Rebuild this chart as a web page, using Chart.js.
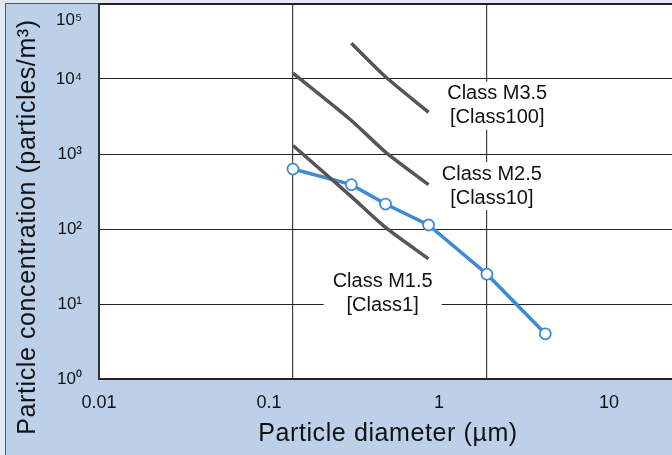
<!DOCTYPE html>
<html lang="en">
<head>
  <meta charset="UTF-8">
  <title>Particle concentration vs diameter</title>
  <script src="https://cdn.jsdelivr.net/npm/chart.js"></script>
  <style>
    html, body {
      margin: 0;
      width: 672px;
      height: 455px;
      overflow: hidden;
      background: #e2e9f5;
      font-family: "Liberation Sans", Arial, sans-serif;
      color: #111;
    }

    #panel {
      position: absolute;
      left: 5px;
      top: 3px;
      right: 0;
      bottom: 0;
      background: #bdd0ea;
      border-left: 1px solid #555;
      border-top: 1px solid #555;
    }

    #chart {
      position: absolute;
      left: 0;
      top: 0;
    }

    .axis-title {
      position: absolute;
      font-size: 25px;
      line-height: 30px;
      height: 30px;
      letter-spacing: 0.6px;
      text-align: center;
      white-space: nowrap;
    }

    #xTitle {
      left: 88px;
      top: 417px;
      width: 600px;
    }

    #yTitle {
      left: -204px;
      top: 212px;
      width: 460px;
      transform: rotate(-90deg);
    }
  </style>
</head>
<body>

  <div id="panel"></div>
  <canvas id="chart" width="672" height="455"></canvas>
  <div id="xTitle" class="axis-title">Particle diameter (µm)</div>
  <div id="yTitle" class="axis-title">Particle concentration (particles/m³)</div>

  <script>
    // measured curve
    const sizes = [0.1, 0.2, 0.3, 0.5, 1, 2];
    const measured = [630, 390, 215, 113, 25, 4];

    // cleanroom class limits
    const classSizes = [0.1, 0.2, 0.3, 0.5];
    const classM15 = [1300, 270, 105, 40];
    const classM25 = [12000, 2800, 1060, 390];
    const classM35Sizes = [0.2, 0.3, 0.5];
    const classM35 = [30000, 10700, 3600];

    const classNames = [
      ['Class M3.5', '[Class100]'],
      ['Class M2.5', '[Class10]'],
      ['Class M1.5', '[Class1]']
    ];

    // axis ticks
    const xTicks = [0.01, 0.1, 1, 10];
    const xGrid = [0.01, 0.1, 1];
    const yTicks = [1, 10, 100, 1000, 10000, 100000];
    const sup = ['⁰', '¹', '²', '³', '⁴', '⁵'];

    const FONT = '"Liberation Sans", Arial, sans-serif';
    Chart.defaults.font.family = FONT;

    const pts = (xs, ys) => xs.map((x, i) => ({ x: x, y: ys[i] }));

    // white plot area + boxed class labels
    const plotPlugin = {
      id: 'plotDecor',
      beforeDraw(chart) {
        const { ctx, chartArea: a } = chart;
        ctx.save();
        ctx.fillStyle = '#fff';
        ctx.fillRect(a.left, a.top, a.right - a.left, a.bottom - a.top);
        ctx.restore();
      },
      beforeDatasetsDraw(chart, args, opts) {
        const { ctx, scales } = chart;
        ctx.save();
        ctx.font = '20px ' + FONT;
        ctx.textAlign = 'center';
        ctx.textBaseline = 'middle';
        opts.labels.forEach(l => {
          const px = scales.x.getPixelForValue(l.x);
          const py = scales.y.getPixelForValue(l.y);
          const w = Math.max(...l.text.map(t => ctx.measureText(t).width)) + 18;
          const h = 48;
          ctx.fillStyle = '#fff';
          ctx.fillRect(px - w / 2, py - h / 2, w, h);
          ctx.fillStyle = '#111';
          ctx.fillText(l.text[0], px, py - 12);
          ctx.fillText(l.text[1], px, py + 12);
        });
        ctx.restore();
      }
    };

    const grayLine = {
      borderColor: '#555',
      borderWidth: 3.5,
      pointRadius: 0,
      tension: 0.25,
      fill: false
    };

    new Chart(document.getElementById('chart'), {
      type: 'line',
      data: {
        datasets: [
          Object.assign({ label: 'Class M3.5', data: pts(classM35Sizes, classM35) }, grayLine),
          Object.assign({ label: 'Class M2.5', data: pts(classSizes, classM25) }, grayLine),
          Object.assign({ label: 'Class M1.5', data: pts(classSizes, classM15) }, grayLine),
          {
            label: 'Measured',
            data: pts(sizes, measured),
            borderColor: '#3f8ad6',
            borderWidth: 3.5,
            pointRadius: 5.5,
            pointBackgroundColor: '#fff',
            pointBorderColor: '#3f8ad6',
            pointBorderWidth: 1.8,
            tension: 0
          }
        ]
      },
      options: {
        responsive: false,
        animation: false,
        layout: { autoPadding: false, padding: { top: 4, left: 0, right: 0, bottom: 0 } },
        plugins: {
          legend: { display: false },
          tooltip: { enabled: false },
          plotDecor: {
            labels: [
              { text: classNames[0], x: 1.13, y: 4400 },
              { text: classNames[1], x: 1.06, y: 374 },
              { text: classNames[2], x: 0.29, y: 14 }
            ]
          }
        },
        scales: {
          x: {
            type: 'logarithmic',
            position: 'bottom',
            min: 0.01,
            max: 9,
            afterBuildTicks: s => { s.ticks = xGrid.map(v => ({ value: v })); },
            ticks: { display: false },
            grid: { color: '#444', lineWidth: 1.2, drawTicks: false },
            border: { display: false },
            afterFit: s => { s.height = 0; s.paddingLeft = 0; s.paddingRight = 0; }
          },
          xl: {
            type: 'logarithmic',
            position: 'bottom',
            min: 0.01,
            max: 23.5,
            afterBuildTicks: s => { s.ticks = xTicks.map(v => ({ value: v })); },
            ticks: {
              font: { size: 18 },
              color: '#111',
              padding: 13,
              maxRotation: 0,
              autoSkip: false,
              callback: v => String(v)
            },
            grid: { display: false, drawTicks: false },
            border: { display: false },
            afterFit: s => { s.height = 76; s.paddingLeft = 0; s.paddingRight = 0; }
          },
          y: {
            type: 'logarithmic',
            min: 1,
            max: 100000,
            afterBuildTicks: s => { s.ticks = yTicks.map(v => ({ value: v })); },
            ticks: {
              font: { size: 17, lineHeight: 1.9 },
              color: '#111',
              padding: 17,
              callback: v => {
                const lbl = '10' + sup[Math.round(Math.log10(v))];
                return v === 100000 ? ['', lbl] : lbl;
              }
            },
            grid: {
              color: '#222',
              lineWidth: c => (c.tick && (c.tick.value === 1 || c.tick.value === 100000)) ? 2 : 1,
              drawTicks: false
            },
            border: { color: '#333', width: 2 },
            afterFit: s => { s.width = 99; s.paddingTop = 0; s.paddingBottom = 0; }
          }
        }
      },
      plugins: [plotPlugin]
    });
  </script>

</body>
</html>
